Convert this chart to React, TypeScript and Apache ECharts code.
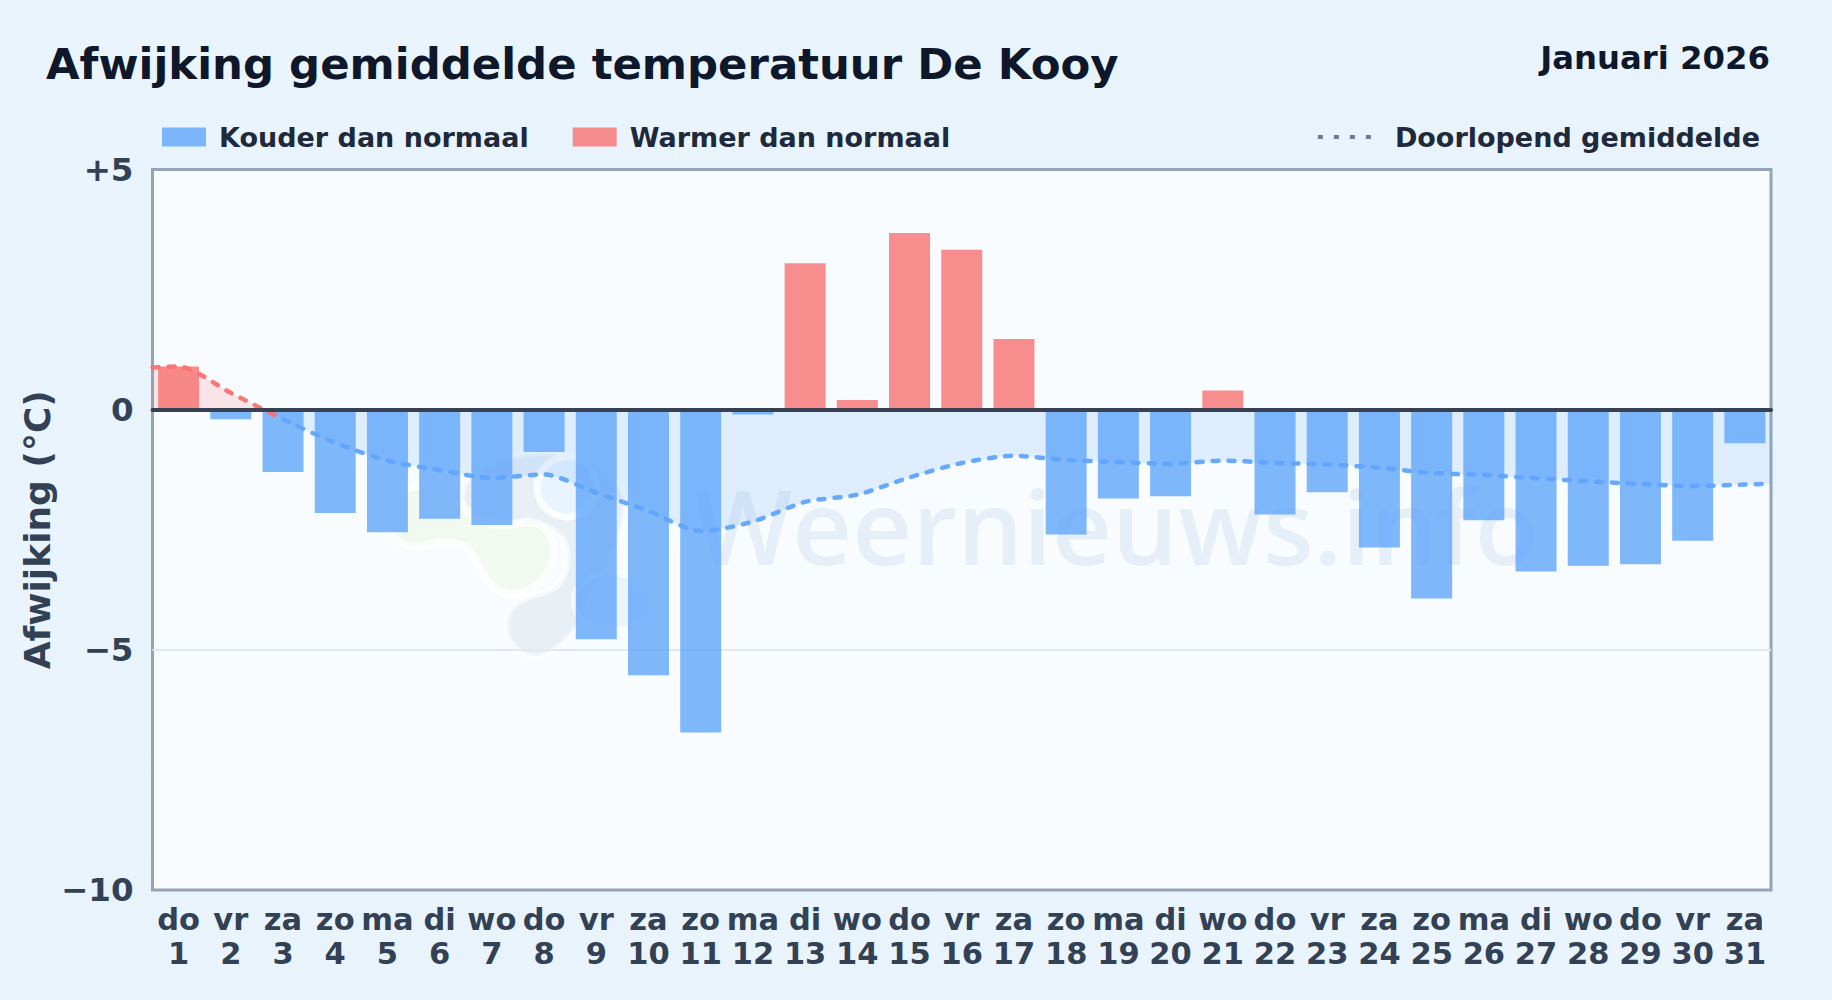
import React, { useEffect, useRef } from "react";
import * as echarts from "echarts";

const weekdays = ["do","vr","za","zo","ma","di","wo","do","vr","za","zo","ma","di","wo","do","vr","za","zo","ma","di","wo","do","vr","za","zo","ma","di","wo","do","vr","za"];
const days = [1,2,3,4,5,6,7,8,9,10,11,12,13,14,15,16,17,18,19,20,21,22,23,24,25,26,27,28,29,30,31];
const anomalies = [0.9,-0.2,-1.3,-2.15,-2.55,-2.27,-2.4,-0.88,-4.78,-5.53,-6.72,-0.1,3.05,0.2,3.68,3.33,1.47,-2.6,-1.85,-1.8,0.4,-2.18,-1.72,-2.87,-3.93,-2.3,-3.37,-3.25,-3.22,-2.73,-0.7];
const runningX = [0.5,1,2,3,4,5,6,7,8,9,10,11,12,13,14,15,16,17,18,19,20,21,22,23,24,25,26,27,28,29,30,31,31.5];
const runningMean = [0.88,0.9,0.35,-0.2,-0.69,-1.06,-1.26,-1.42,-1.35,-1.73,-2.11,-2.53,-2.33,-1.92,-1.77,-1.41,-1.11,-0.96,-1.05,-1.09,-1.13,-1.06,-1.11,-1.14,-1.21,-1.32,-1.36,-1.43,-1.49,-1.55,-1.59,-1.56,-1.54];
const yTickLabels: Record<string, string> = { "5": "+5", "0": "0", "-5": "\u22125", "-10": "\u221210" };

const FONT = "DejaVu Sans";
const BLUE = "#60a5fa";
const RED = "#f87171";

const YELLOW_BLOB = "M388 505 C398 482 440 478 462 505 C478 524 500 528 524 522 C545 520 556 538 553 558 C548 580 530 594 510 594 C490 592 482 572 474 556 C464 540 446 540 426 545 C404 552 380 535 388 505 Z";
const GREY_BLOB = "M506 625 C506 604 524 598 546 592 C566 586 572 560 564 540 C556 526 530 520 502 526 C476 530 462 514 462 495 C462 474 490 460 520 455 C560 448 604 462 622 490 C634 520 610 560 594 590 C584 612 578 640 542 656 C518 658 506 642 506 625 Z";
const CLOUD_BLOB = "M574 600 C574 580 600 568 622 574 C648 582 655 606 640 622 C622 636 574 632 574 600 Z";
echarts.graphic.registerShape("wmYellow", echarts.graphic.extendPath(YELLOW_BLOB, {}) as any);
echarts.graphic.registerShape("wmGrey", echarts.graphic.extendPath(GREY_BLOB, {}) as any);
echarts.graphic.registerShape("wmCloud", echarts.graphic.extendPath(CLOUD_BLOB, {}) as any);

export default function App() {
  const ref = useRef<HTMLDivElement>(null);
  useEffect(() => {
    document.body.style.margin = "0";
    const chart = echarts.init(ref.current!, undefined, { renderer: "svg" });
    const linePoints = runningX.map((x, i) => [x, runningMean[i]]);
    const lineCommon = { type: "line", xAxisIndex: 1, yAxisIndex: 0, symbol: "none", smooth: 0.25, data: linePoints, silent: true };
    chart.setOption({
      animation: false,
      backgroundColor: "transparent",
      title: [
        { text: "Afwijking gemiddelde temperatuur De Kooy", left: 46, top: 42, padding: 0, textStyle: { fontFamily: FONT, fontWeight: "bold", fontSize: 43.4, color: "#0f172a" } },
        { text: "Januari 2026", right: 62, top: 42, padding: 0, textStyle: { fontFamily: FONT, fontWeight: "bold", fontSize: 32.3, color: "#0f172a" } },
      ],
      legend: [
        {
          data: ["Kouder dan normaal", "Warmer dan normaal"], left: 162, top: 123.5, padding: 0,
          itemWidth: 44, itemHeight: 19, itemGap: 44, icon: "rect", selectedMode: false,
          textStyle: { fontFamily: FONT, fontWeight: "bold", fontSize: 27, color: "#1e293b", padding: [0, 0, 0, 8] },
        },
        {
          data: ["Doorlopend gemiddelde"], right: 72, top: 123.5, padding: 0,
          itemWidth: 58, itemHeight: 19, selectedMode: false,
          lineStyle: { color: "#64748b", width: 4, type: [5, 11], cap: "butt" },
          itemStyle: { opacity: 0 },
          textStyle: { fontFamily: FONT, fontWeight: "bold", fontSize: 27, color: "#1e293b", padding: [0, 0, 0, 14] },
        },
      ],
      grid: { left: 152.5, right: 61, top: 169.5, height: 720.5, show: true, z: 1, backgroundColor: "transparent", borderColor: "#94a3b8", borderWidth: 3 },
      graphic: [
        { type: "rect", z: 0, silent: true, shape: { x: 152.5, y: 169.5, width: 1618.5, height: 720.5 }, style: { fill: "#f8fcff" } },
        { type: "wmGrey", z: 0, silent: true, x: 0, y: 0, style: { fill: "rgba(30,80,130,0.07)", stroke: "rgba(255,255,255,0.5)", lineWidth: 6 } },
        { type: "wmCloud", z: 0, silent: true, x: 0, y: 0, style: { fill: "rgba(200,225,250,0.25)", stroke: "rgba(255,255,255,0.6)", lineWidth: 6 } },
        { type: "wmYellow", z: 0, silent: true, x: 0, y: 0, style: { fill: "rgba(200,230,120,0.10)", stroke: "rgba(255,255,255,0.7)", lineWidth: 8 } },
        { type: "circle", z: 0, silent: true, shape: { cx: 567, cy: 487, r: 30 }, style: { fill: "#e8f5ff", stroke: "rgba(255,255,255,0.8)", lineWidth: 7 } },
        { type: "text", z: 0, silent: true, style: { text: "Weernieuws.info", x: 694, y: 472, font: '600 104px "Open Sans"', fill: "rgba(30,90,150,0.08)" } },
      ],
      xAxis: [
        {
          type: "category", data: days.map((d, i) => `${weekdays[i]}\n${d}`), position: "bottom", z: 1,
          axisLine: { show: false, onZero: false }, axisTick: { show: false }, splitLine: { show: false },
          axisLabel: { interval: 0, margin: 12, fontFamily: FONT, fontWeight: "bold", fontSize: 30.5, lineHeight: 34, color: "#334155" },
        },
        {
          type: "value", min: 0.5, max: 31.5, position: "top", z: 5,
          axisLine: { show: true, onZero: true, lineStyle: { color: "#374151", width: 4 } },
          axisTick: { show: false }, axisLabel: { show: false }, splitLine: { show: false },
        },
      ],
      yAxis: {
        type: "value", min: -10, max: 5, interval: 5, z: 1,
        name: "Afwijking (\u00b0C)", nameLocation: "middle", nameGap: 97, nameMoveOverlap: false,
        nameTextStyle: { fontFamily: FONT, fontWeight: "bold", fontSize: 36, color: "#334155" },
        axisLine: { show: false }, axisTick: { show: false },
        splitLine: { show: true, showMinLine: false, showMaxLine: false, lineStyle: { color: "#e2e8f0", width: 2 } },
        axisLabel: { margin: 19, fontFamily: FONT, fontWeight: "bold", fontSize: 32.5, color: "#334155", formatter: (v: number) => yTickLabels[String(v)] ?? String(v) },
      },
      visualMap: [
        {
          show: false, type: "piecewise", dimension: 1, seriesIndex: 2,
          pieces: [{ gt: 0, lte: 5, color: RED }, { gte: -10, lte: 0, color: BLUE }],
        },
        {
          show: false, type: "piecewise", dimension: 1, seriesIndex: 3,
          pieces: [{ gt: -0.17, lte: 5, color: RED }, { gte: -10, lte: -0.17, color: BLUE }],
        },
      ],
      series: [
        {
          name: "Kouder dan normaal", type: "bar", xAxisIndex: 0, yAxisIndex: 0, z: 2, barWidth: "78.5%", barGap: "-100%",
          itemStyle: { color: "rgba(96,165,250,0.8)" }, data: anomalies.map(v => (v < 0 ? v : null)),
        },
        {
          name: "Warmer dan normaal", type: "bar", xAxisIndex: 0, yAxisIndex: 0, z: 2, barWidth: "78.5%", barGap: "-100%",
          itemStyle: { color: "rgba(248,113,113,0.8)" }, data: anomalies.map(v => (v > 0 ? v : null)),
        },
        { ...lineCommon, name: "Afwijkingsvlak", z: 1, lineStyle: { width: 0, opacity: 0 }, areaStyle: { origin: 0, opacity: 0.17 } },
        { ...lineCommon, name: "Doorlopend gemiddelde", z: 3, lineStyle: { width: 4.5, type: [6, 10], cap: "round", opacity: 0.95 } },
      ],
    });
    return () => chart.dispose();
  }, []);
  return (
    <div style={{ position: "absolute", left: 0, top: 0, width: 1832, height: 1000, background: "linear-gradient(135deg,#e9f4fd 0%,#e8f3fc 50%,#eaf4fd 100%)" }}>
      <div ref={ref} style={{ width: 1832, height: 1000 }} />
    </div>
  );
}
